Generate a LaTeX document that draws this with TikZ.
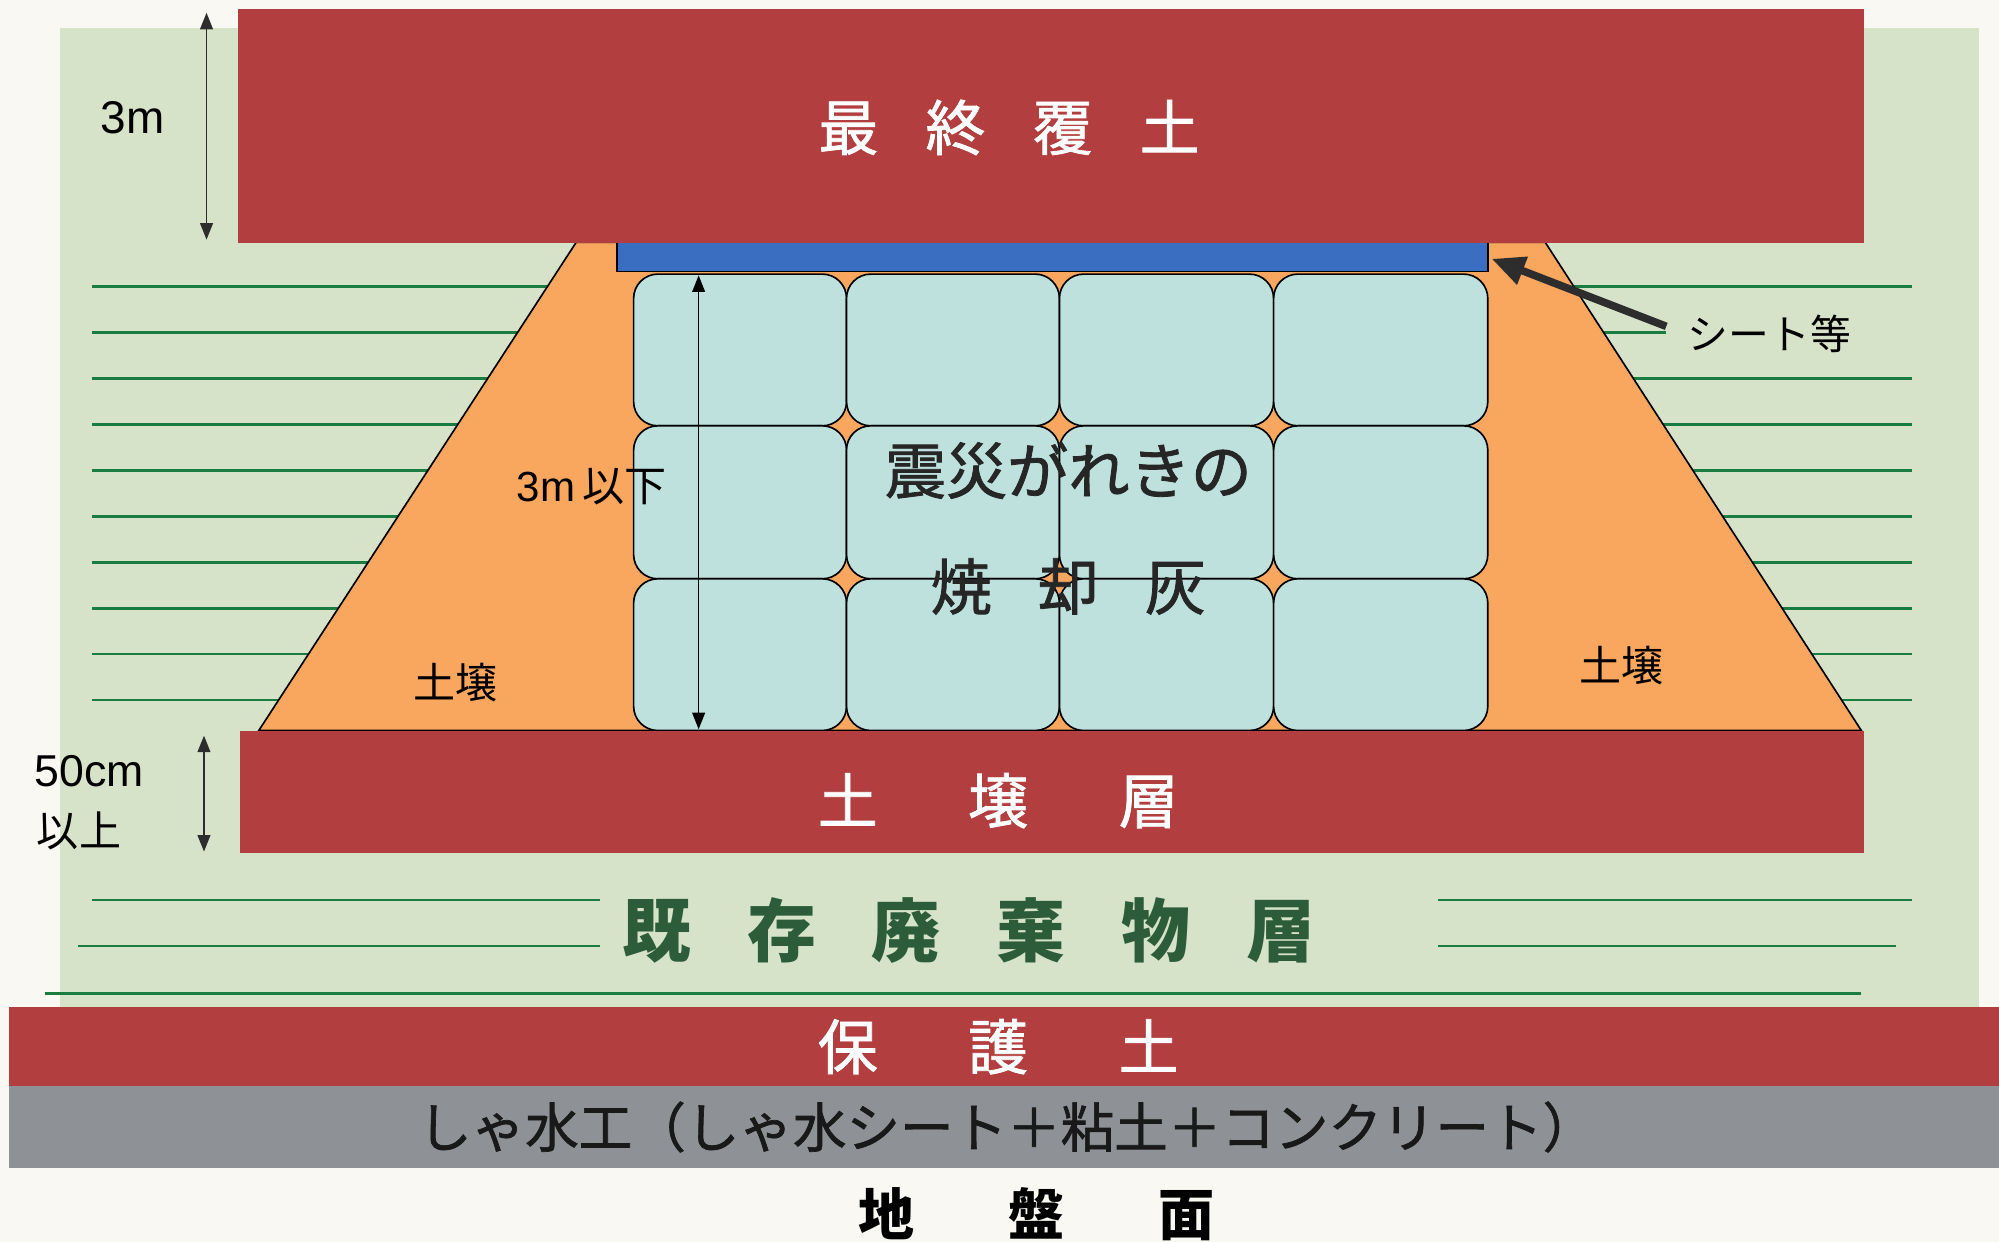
\documentclass[tikz,border=0pt]{standalone}
\usepackage{fontspec}
\setmainfont{Liberation Sans}
\newfontfamily\jp{Noto Sans CJK JP}
\newfontfamily\jpm[FakeBold=1.3]{Noto Sans CJK JP}
\usetikzlibrary{arrows.meta}
\definecolor{pagebg}{RGB}{249,248,242}
\definecolor{palegreen}{RGB}{214,227,200}
\definecolor{bandred}{RGB}{178,62,64}
\definecolor{soilorange}{RGB}{249,166,94}
\definecolor{cellcyan}{RGB}{190,225,222}
\definecolor{sheetblue}{RGB}{58,110,192}
\definecolor{linegreen}{RGB}{25,125,65}
\definecolor{bandgray}{RGB}{142,146,150}
\definecolor{textgreen}{RGB}{45,92,58}
\definecolor{dimgray}{RGB}{45,45,45}
\tikzset{
  redband/.style={fill=bandred},
  gline/.style={draw=linegreen, line width=2.2pt},
  cellbox/.style={draw=black, line width=1.3pt, fill=cellcyan, rounded corners=19pt},
  dimarrow/.style={draw=dimgray, line width=1.5pt, {Triangle[length=13pt,width=10pt]}-{Triangle[length=13pt,width=10pt]}},
  bigwhite/.style={text=white, font=\jpm\fontsize{47}{54}\selectfont, inner sep=0pt},
  smalllabel/.style={text=black, font=\jp\fontsize{33}{40}\selectfont, inner sep=0pt},
}
\begin{document}
\begin{tikzpicture}[x=1pt, y=-1pt]
\useasboundingbox (0,0) rectangle (1568,974);
\fill[pagebg] (0,0) rectangle (1568,974);
% pale green ground
\fill[palegreen] (47,22) rectangle (1552,790);
% horizontal green lines
\foreach \yy in {225,297,333,369,405,441,477,513,549} {
  \draw[gline] (72,\yy) -- (1500,\yy);
}
\draw[gline] (72,261) -- (1307,261);
\draw[gline] (72,706) -- (471,706);
\draw[gline] (61,742) -- (471,742);
\draw[gline] (1128,706) -- (1500,706);
\draw[gline] (1128,742) -- (1487,742);
\draw[gline] (35,779) -- (1460,779);
% orange soil trapezoid
\filldraw[fill=soilorange, draw=black, line width=1.3pt] (452,190) -- (203,573) -- (1460,573) -- (1212,190) -- cycle;
% sheet
\filldraw[fill=sheetblue, draw=black, line width=1.3pt] (484,190) rectangle (1167,213);
% cells
\foreach \xa/\xb in {497/664,664/831,831/999,999/1167} {
  \foreach \ya/\yb in {215/334,334/454,454/573} {
    \draw[cellbox] (\xa,\ya) rectangle (\xb,\yb);
  }
}
% red bands
\fill[redband] (187,7) rectangle (1462,190.5);
\fill[redband] (188,573) rectangle (1462,669);
\fill[redband] (7,790) rectangle (1568,852);
\fill[bandgray] (7,852) rectangle (1568,916);
% layer titles
\node[bigwhite] (cover) at (791.5,100) {最\hspace{37pt}終\hspace{37pt}覆\hspace{37pt}土};
\node[bigwhite] (soillayer) at (783,628) {土\hspace{71pt}壌\hspace{71pt}層};
\node[bigwhite] (protect) at (783,821) {保\hspace{71pt}護\hspace{71pt}土};
\node[text=textgreen, font=\jp\bfseries\fontsize{54}{62}\selectfont, inner sep=0pt] (waste) at (760,730) {既\hspace{44pt}存\hspace{44pt}廃\hspace{44pt}棄\hspace{44pt}物\hspace{44pt}層};
\node[text=black!90, font=\jpm\fontsize{42}{50}\selectfont, inner sep=0pt] (liner) at (790,884) {しゃ水工（しゃ水シート＋粘土＋コンクリート）};
\node[text=black, font=\jp\bfseries\fontsize{44}{50}\selectfont, inner sep=0pt] (ground) at (813,952) {地\hspace{74pt}盤\hspace{74pt}面};
\node[text=black!85, font=\jpm\fontsize{48}{56}\selectfont, inner sep=0pt] (ash1) at (838,369) {震災がれきの};
\node[text=black!85, font=\jpm\fontsize{48}{56}\selectfont, inner sep=0pt] (ash2) at (838,460) {焼\hspace{36pt}却\hspace{36pt}灰};
\node[smalllabel] (soilL) at (357,535) {土壌};
\node[smalllabel] (soilR) at (1272,522) {土壌};
\node[smalllabel, font=\jp\fontsize{32}{40}\selectfont] (sheetlbl) at (1388,262) {シート等};
\node[smalllabel, font=\fontsize{33}{40}\selectfont] (lim3) at (464,382) {3m\,{\jp 以下}};
\node[smalllabel, font=\fontsize{36}{40}\selectfont] (h3) at (104,92) {3m};
\node[smalllabel, font=\fontsize{35}{40}\selectfont] (h50) at (70,605) {50cm};
\node[smalllabel, font=\jp\fontsize{33}{40}\selectfont] (over) at (62,652) {以上};
% dimension arrows
\coordinate (d3a) at (162,10);
\coordinate (d3b) at (162,188);
\coordinate (d50a) at (160,577);
\coordinate (d50b) at (160,668);
\coordinate (dcella) at (548,216);
\coordinate (dcellb) at (548,572);
\draw[dimarrow] (d3a) -- (d3b);
\draw[dimarrow] (d50a) -- (d50b);
\draw[dimarrow, draw=black, line width=1.3pt] (dcella) -- (dcellb);
% sheet pointer
\coordinate (sheettip) at (1170,203);
\coordinate (sheettail) at (1307,256);
\draw[draw=dimgray, line width=6pt, -{Triangle[length=26pt,width=22pt]}] (sheettail) -- (sheettip);
\end{tikzpicture}
\end{document}
